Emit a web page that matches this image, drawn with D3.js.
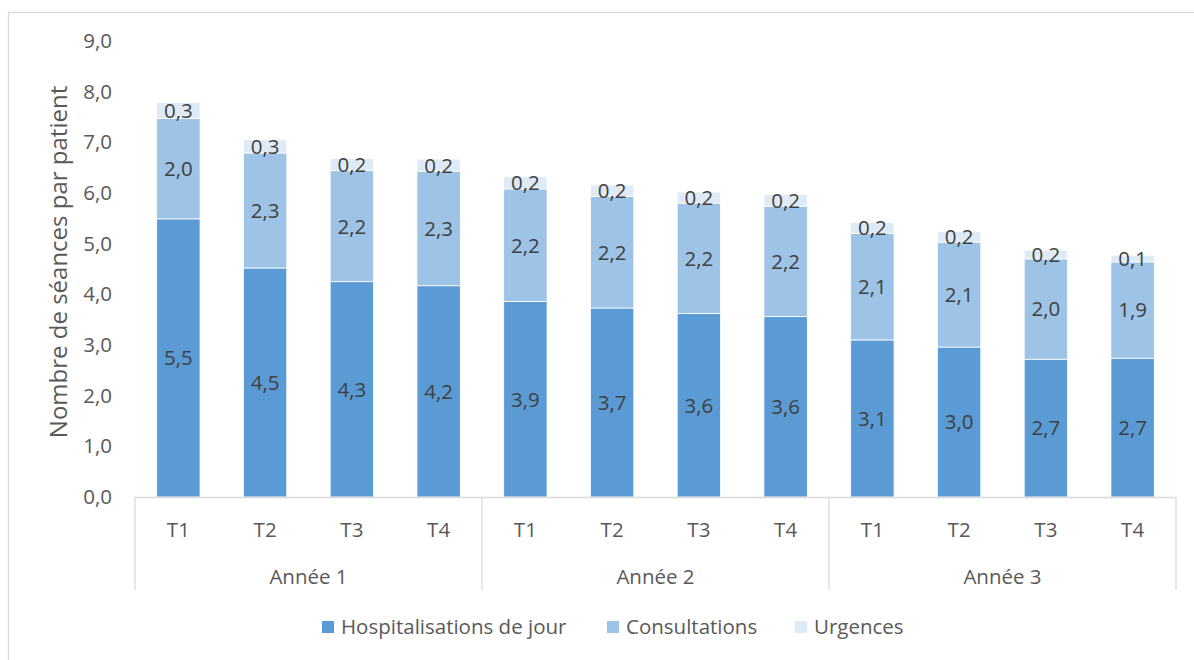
<!DOCTYPE html>
<html>
<head>
<meta charset="utf-8">
<script src="https://cdn.jsdelivr.net/npm/d3@7"></script>
<style>
  body { margin: 0; background: #fff; }
  svg { font-family: "Open Sans", Lato, sans-serif; }
</style>
</head>
<body>
<script>
// data
var years = ["Année 1", "Année 2", "Année 3"];
var quarters = ["T1", "T2", "T3", "T4"];
var seriesNames = ["Hospitalisations de jour", "Consultations", "Urgences"];
var hospit = [5.49, 4.52, 4.25, 4.17, 3.86, 3.73, 3.62, 3.56, 3.10, 2.96, 2.72, 2.74];
var consult = [1.98, 2.27, 2.19, 2.26, 2.22, 2.20, 2.18, 2.18, 2.10, 2.07, 1.98, 1.90];
var urgences = [0.32, 0.26, 0.24, 0.24, 0.24, 0.23, 0.22, 0.23, 0.22, 0.21, 0.17, 0.13];
var yTicks = [0, 1, 2, 3, 4, 5, 6, 7, 8, 9];

var colors = ["#5b9bd5", "#9dc3e6", "#deebf7"];

var W = 1194, H = 660;
var plot = { left: 135, right: 1176, top: 41, bottom: 497 };
var fs = "20.5px";

var svg = d3.select("body").append("svg")
    .attr("width", W)
    .attr("height", H);

// chart frame
svg.append("rect")
    .attr("x", 8.5).attr("y", 12.5)
    .attr("width", W + 20).attr("height", H + 20)
    .attr("fill", "none")
    .attr("stroke", "#d9d9d9")
    .attr("stroke-width", 1.3);

// build rows
var rows = [];
years.forEach(function(y, i) {
    quarters.forEach(function(q, j) {
        var k = i * 4 + j;
        rows.push({ key: y + "|" + q, year: y, quarter: q,
            "Hospitalisations de jour": hospit[k],
            "Consultations": consult[k],
            "Urgences": urgences[k] });
    });
});

var x = d3.scaleBand()
    .domain(rows.map(function(d) { return d.key; }))
    .range([plot.left, plot.right])
    .paddingInner(0.5)
    .paddingOuter(0.25);

var y = d3.scaleLinear()
    .domain([0, 9])
    .range([plot.bottom, plot.top]);

var fmt = function(v) { return d3.format(".1f")(v).replace(".", ","); };

// y axis labels
var yAxis = d3.axisLeft(y).tickValues(yTicks).tickFormat(fmt).tickSize(0).tickPadding(0);
var gy = svg.append("g")
    .attr("transform", "translate(112,0)")
    .call(yAxis);
gy.select(".domain").remove();
gy.selectAll("text")
    .attr("font-size", fs)
    .attr("font-family", "'Open Sans', sans-serif")
    .attr("fill", "#595959");

// y title
svg.append("text")
    .attr("transform", "translate(67," + 262 + ") rotate(-90)")
    .attr("text-anchor", "middle")
    .attr("font-size", "24px")
    .attr("fill", "#595959")
    .text("Nombre de séances par patient");

// stacked bars
var stack = d3.stack().keys(seriesNames);
var layers = stack(rows);

var gl = svg.selectAll(".layer")
    .data(layers)
    .enter().append("g")
    .attr("class", "layer")
    .attr("fill", function(d, i) { return colors[i]; });

gl.selectAll("rect")
    .data(function(d) { return d; })
    .enter().append("rect")
    .attr("x", function(d) { return x(d.data.key); })
    .attr("width", x.bandwidth())
    .attr("y", function(d) { return y(d[1]); })
    .attr("height", function(d) { return y(d[0]) - y(d[1]); })
    .attr("stroke", "#fff")
    .attr("stroke-width", 0.8);

gl.selectAll("text")
    .data(function(d) { return d; })
    .enter().append("text")
    .attr("x", function(d) { return x(d.data.key) + x.bandwidth() / 2; })
    .attr("y", function(d) { return (y(d[0]) + y(d[1])) / 2; })
    .attr("dy", "0.36em")
    .attr("text-anchor", "middle")
    .attr("font-size", fs)
    .attr("fill", "#404040")
    .text(function(d) { return fmt(d[1] - d[0]); });

// x axis line + group dividers
svg.append("line")
    .attr("x1", plot.left).attr("x2", plot.right)
    .attr("y1", plot.bottom + 0.5).attr("y2", plot.bottom + 0.5)
    .attr("stroke", "#d9d9d9").attr("stroke-width", 1.3);

var groupW = (plot.right - plot.left) / years.length;
d3.range(years.length + 1).forEach(function(i) {
    var gx = plot.left + i * groupW;
    svg.append("line")
        .attr("x1", gx).attr("x2", gx)
        .attr("y1", plot.bottom).attr("y2", 590)
        .attr("stroke", "#d9d9d9").attr("stroke-width", 1.3);
});

// quarter labels
svg.selectAll(".qlab")
    .data(rows)
    .enter().append("text")
    .attr("class", "qlab")
    .attr("x", function(d) { return x(d.key) + x.bandwidth() / 2; })
    .attr("y", 530)
    .attr("dy", "0.36em")
    .attr("text-anchor", "middle")
    .attr("font-size", fs)
    .attr("fill", "#595959")
    .text(function(d) { return d.quarter; });

// year labels
svg.selectAll(".ylab")
    .data(years)
    .enter().append("text")
    .attr("class", "ylab")
    .attr("x", function(d, i) { return plot.left + (i + 0.5) * groupW; })
    .attr("y", 577)
    .attr("dy", "0.36em")
    .attr("text-anchor", "middle")
    .attr("font-size", fs)
    .attr("fill", "#595959")
    .text(function(d) { return d; });

// legend
var legendX = [322, 607, 795];
var lg = svg.selectAll(".leg")
    .data(seriesNames)
    .enter().append("g")
    .attr("class", "leg")
    .attr("transform", function(d, i) { return "translate(" + legendX[i] + ",627)"; });

lg.append("rect")
    .attr("x", 0).attr("y", -6)
    .attr("width", 12).attr("height", 12)
    .attr("fill", function(d, i) { return colors[i]; });

lg.append("text")
    .attr("x", 19)
    .attr("dy", "0.36em")
    .attr("font-size", fs)
    .attr("fill", "#595959")
    .text(function(d) { return d; });
</script>
</body>
</html>
